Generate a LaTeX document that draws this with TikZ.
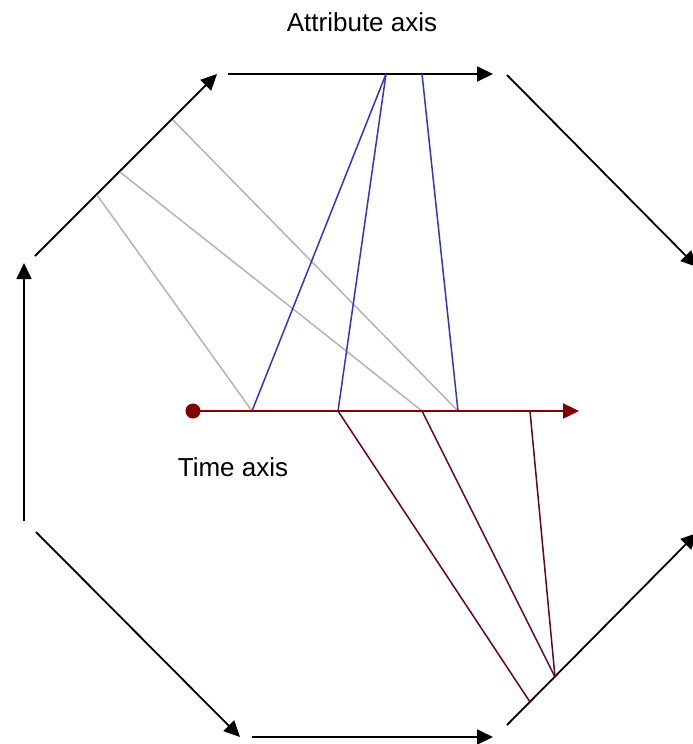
\documentclass[tikz,border=0pt]{standalone}
\usepackage{fontspec}
\setmainfont{Liberation Sans}
\usetikzlibrary{arrows.meta}
\begin{document}
\begin{tikzpicture}[x=1pt,y=-1pt,
  edge/.style={draw=black,line width=1.8pt,-{Triangle[length=16pt,width=15pt]}},
  timeaxis/.style={draw={rgb,255:red,128;green,0;blue,0},line width=2.4pt,-{Triangle[length=16pt,width=15pt]}},
  blueln/.style={draw={rgb,255:red,51;green,51;blue,204},line width=1.5pt},
  grayln/.style={draw={rgb,255:red,180;green,180;blue,180},line width=1.5pt},
  purpln/.style={draw={rgb,255:red,102;green,0;blue,51},line width=1.5pt},
  lbl/.style={font=\fontsize{26}{31}\selectfont,inner sep=0pt}]
\useasboundingbox (0,0) rectangle (693,744);
% octagon edges
\coordinate (t1) at (228,74);  \coordinate (t2) at (493,74);
\coordinate (ur1) at (507,75); \coordinate (ur2) at (697,267);
\coordinate (lr1) at (507,725); \coordinate (lr2) at (697,533);
\coordinate (b1) at (252,737); \coordinate (b2) at (493,737);
\coordinate (ll1) at (36,532); \coordinate (ll2) at (240,737);
\coordinate (l1) at (24,521);  \coordinate (l2) at (24,263);
\coordinate (ul1) at (35,256); \coordinate (ul2) at (217,74);
\draw[edge] (t1) -- (t2);
\draw[edge] (ur1) -- (ur2);
\draw[edge] (lr1) -- (lr2);
\draw[edge] (b1) -- (b2);
\draw[edge] (ll1) -- (ll2);
\draw[edge] (l1) -- (l2);
\draw[edge] (ul1) -- (ul2);
% points on time axis
\coordinate (p1) at (252,411);
\coordinate (p2) at (338,411);
\coordinate (p3) at (422,411);
\coordinate (p4) at (458,411);
\coordinate (p5) at (530,411);
% points on attribute axis
\coordinate (a1) at (386,74);
\coordinate (a2) at (422,74);
% points on upper-left edge
\coordinate (g1) at (97,195);
\coordinate (g2) at (120,172);
\coordinate (g3) at (173,120);
% points on lower-right edge
\coordinate (r1) at (530,702);
\coordinate (r2) at (555,677);
% gray lines
\draw[grayln] (g1) -- (p1);
\draw[grayln] (g2) -- (p3);
\draw[grayln] (g3) -- (p4);
% blue lines
\draw[blueln] (p1) -- (a1);
\draw[blueln] (p2) -- (a1);
\draw[blueln] (p4) -- (a2);
% purple lines
\draw[purpln] (p2) -- (r1);
\draw[purpln] (p3) -- (r2);
\draw[purpln] (p5) -- (r2);
% time axis
\node[circle,fill={rgb,255:red,128;green,0;blue,0},minimum size=15pt,inner sep=0pt] (dot) at (193,411) {};
\coordinate (tend) at (579,411);
\draw[timeaxis] (dot.center) -- (tend);
% labels
\node[lbl] (attr) at (362,22) {Attribute axis};
\node[lbl] (time) at (233,467) {Time axis};
\end{tikzpicture}
\end{document}
